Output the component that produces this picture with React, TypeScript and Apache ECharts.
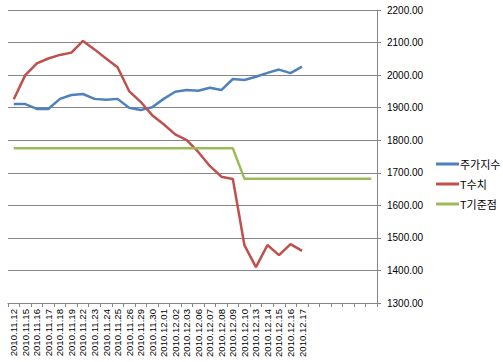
import React, { useEffect, useRef } from "react";
import * as echarts from "echarts";

const categories = [
  "2010.11.12", "2010.11.15", "2010.11.16", "2010.11.17", "2010.11.18", "2010.11.19",
  "2010.11.22", "2010.11.23", "2010.11.24", "2010.11.25", "2010.11.26", "2010.11.29",
  "2010.11.30", "2010.12.01", "2010.12.02", "2010.12.03", "2010.12.06", "2010.12.07",
  "2010.12.08", "2010.12.09", "2010.12.10", "2010.12.13", "2010.12.14", "2010.12.15",
  "2010.12.16", "2010.12.17", "", "", "", "", "", "",
];

const stockIndex = [
  1911, 1911, 1896, 1896, 1927, 1939, 1942, 1927, 1924, 1927, 1900, 1893, 1901,
  1927, 1949, 1954, 1952, 1961, 1954, 1988, 1985, 1995, 2007, 2017, 2006, 2026,
];

const tValue = [
  1926, 2000, 2036, 2051, 2062, 2069, 2105, 2079, 2051, 2024, 1951, 1918, 1877,
  1849, 1818, 1800, 1764, 1721, 1688, 1681, 1478, 1410, 1478, 1447, 1481, 1460,
];

const tBase = [
  1775, 1775, 1775, 1775, 1775, 1775, 1775, 1775, 1775, 1775, 1775, 1775, 1775,
  1775, 1775, 1775, 1775, 1775, 1775, 1775, 1682, 1682, 1682, 1682, 1682, 1682,
  1682, 1682, 1682, 1682, 1682, 1682,
];

const seriesNames = ["주가지수", "T수치", "T기준점"];
const colors = ["#4F81BD", "#C0504D", "#9BBB59"];

export default function App() {
  const ref = useRef<HTMLDivElement>(null);
  useEffect(() => {
    if (!ref.current) return;
    const chart = echarts.init(ref.current, null, { renderer: "svg" });
    const font = "'Liberation Sans', Arial, 'Noto Sans CJK KR', sans-serif";
    chart.setOption({
      animation: false,
      color: colors,
      grid: { left: 8, right: 126, top: 10, bottom: 59, containLabel: false },
      legend: {
        orient: "vertical",
        left: 431,
        top: 152,
        icon: "rect",
        itemWidth: 23,
        itemHeight: 3,
        itemGap: 6,
        textStyle: {
          fontSize: 11,
          lineHeight: 14,
          color: "#000",
          fontWeight: "normal",
          fontFamily: "'Noto Sans CJK KR', sans-serif",
          padding: [0, 0, 0, -4],
        },
        data: seriesNames,
      },
      xAxis: {
        type: "category",
        data: categories,
        boundaryGap: true,
        axisLine: { show: true, lineStyle: { color: "#868686", width: 1 } },
        axisTick: { show: true, interval: 0, length: 4, lineStyle: { color: "#868686" } },
        axisLabel: {
          interval: 0,
          rotate: 90,
          fontSize: 9.6,
          color: "#000",
          fontFamily: font,
          margin: 6,
        },
        splitLine: { show: false },
      },
      yAxis: {
        type: "value",
        position: "right",
        min: 1300,
        max: 2200,
        interval: 100,
        axisLine: { show: true, lineStyle: { color: "#868686", width: 1 } },
        axisTick: { show: true, length: 4, lineStyle: { color: "#868686" } },
        axisLabel: {
          fontSize: 10,
          color: "#000",
          fontFamily: font,
          margin: 10,
          formatter: (v: number) => v.toFixed(2),
        },
        splitLine: { show: true, lineStyle: { color: "#868686", width: 1 } },
      },
      series: [
        { name: seriesNames[0], type: "line", data: stockIndex, symbol: "none", lineStyle: { width: 2.5, color: colors[0] } },
        { name: seriesNames[1], type: "line", data: tValue, symbol: "none", lineStyle: { width: 2.5, color: colors[1] } },
        { name: seriesNames[2], type: "line", data: tBase, symbol: "none", lineStyle: { width: 2.5, color: colors[2] } },
      ],
    });
    return () => chart.dispose();
  }, []);
  return (
    <div
      ref={ref}
      style={{ position: "fixed", left: 0, top: 0, width: 503, height: 362, background: "#fff" }}
    />
  );
}
